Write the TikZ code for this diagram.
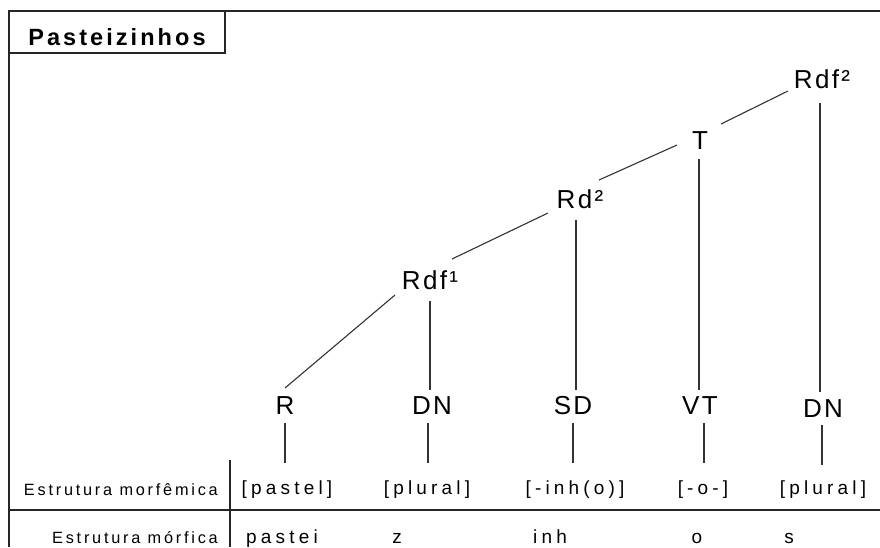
\documentclass[tikz,border=0pt]{standalone}
\usepackage{fontspec}
\setmainfont{Liberation Sans}
% spaced-out sans faces for the different text sizes
\newfontfamily\titlefont{Liberation Sans}[LetterSpace=13]
\newfontfamily\treefont{Liberation Sans}[LetterSpace=9]
\newfontfamily\rowfont{Liberation Sans}[LetterSpace=22]
\newfontfamily\sidefont{Liberation Sans}[LetterSpace=17]

\tikzset{
  frameline/.style={line width=1.6pt, draw=black!85},
  branch/.style={line width=1.1pt, draw=black!80},
  cat/.style={inner sep=0pt, font=\treefont\fontsize{26}{30}\selectfont},
  morph/.style={inner sep=0pt, font=\rowfont\fontsize{19}{22}\selectfont},
  side/.style={inner sep=0pt, anchor=base east, font=\sidefont\fontsize{16.3}{19}\selectfont},
  titlebox/.style={draw=black!85, line width=1.6pt, minimum width=216pt, minimum height=42pt,
    text height=26pt, text depth=0pt, inner sep=0pt,
    font=\titlefont\bfseries\fontsize{23.5}{27}\selectfont},
}

\begin{document}
\begin{tikzpicture}[x=1pt,y=-1pt]
\useasboundingbox[fill=white] (0,0) rectangle (880,547);

% outer frame and table rules
\draw[frameline] (880,11) -- (9,11) -- (9,547);
\node[titlebox] (title) at (117,32) {Pasteizinhos};
\draw[frameline] (9,510) -- (880,510);
\draw[frameline] (230,460) -- (230,547);

% tree nodes
\node[cat] (Rdf2) at (822,79)  {Rdf²};
\node[cat] (T)    at (700,141) {T};
\node[cat] (Rd2)  at (580,199) {Rd²};
\node[cat] (Rdf1) at (430,280) {Rdf¹};
\node[cat] (R)    at (285,406) {R};
\node[cat] (DNa)  at (432,406) {DN};
\node[cat] (SD)   at (573,406) {SD};
\node[cat] (VT)   at (700,406) {VT};
\node[cat] (DNb)  at (823,409) {DN};

% morphemic structure row
\node[morph] (mA) at (287,490) {[pastel]};
\node[morph] (mB) at (427,490) {[plural]};
\node[morph] (mC) at (575,490) {[-inh(o)]};
\node[morph] (mD) at (703,490) {[-o-]};
\node[morph] (mE) at (823,490) {[plural]};

% morphic structure row
\node[morph, anchor=base] (fA) at (282,543) {pastei};
\node[morph, anchor=base] (fB) at (397,543) {z};
\node[morph, anchor=base] (fC) at (550,543) {inh};
\node[morph, anchor=base] (fD) at (697,543) {o};
\node[morph, anchor=base] (fE) at (789,543) {s};

% row headings
\node[side] (hA) at (218,495) {Estrutura morfêmica};
\node[side] (hB) at (218,543) {Estrutura mórfica};

% slanted branches
\draw[branch] ([shift={(-34,12)}]Rdf2.center) -- ([shift={(21,-17)}]T.center);
\draw[branch] ([shift={(-23,4)}]T.center) -- ([shift={(19,-19)}]Rd2.center);
\draw[branch] ([shift={(-32,14)}]Rd2.center) -- ([shift={(22,-21)}]Rdf1.center);
\draw[branch] ([shift={(-35,15)}]Rdf1.center) -- ([shift={(0,-18)}]R.center);

% vertical branches
\draw[branch] ([shift={(0,21)}]Rdf1.center) -- ([shift={(-2,-16)}]DNa.center);
\draw[branch] ([shift={(-4,21)}]Rd2.center) -- ([shift={(3,-16)}]SD.center);
\draw[branch] ([shift={(-1,18)}]T.center) -- ([shift={(-1,-16)}]VT.center);
\draw[branch] ([shift={(-2,24)}]Rdf2.center) -- ([shift={(-3,-17)}]DNb.center);

% stubs down to the morphemes
\draw[branch] ([shift={(0,17)}]R.center) -- ([shift={(-2,-27)}]mA.center);
\draw[branch] ([shift={(-4,17)}]DNa.center) -- ([shift={(1,-27)}]mB.center);
\draw[branch] ([shift={(0,17)}]SD.center) -- ([shift={(-2,-27)}]mC.center);
\draw[branch] ([shift={(4,17)}]VT.center) -- ([shift={(1,-27)}]mD.center);
\draw[branch] ([shift={(-1,16)}]DNb.center) -- ([shift={(-1,-25)}]mE.center);
\end{tikzpicture}
\end{document}
